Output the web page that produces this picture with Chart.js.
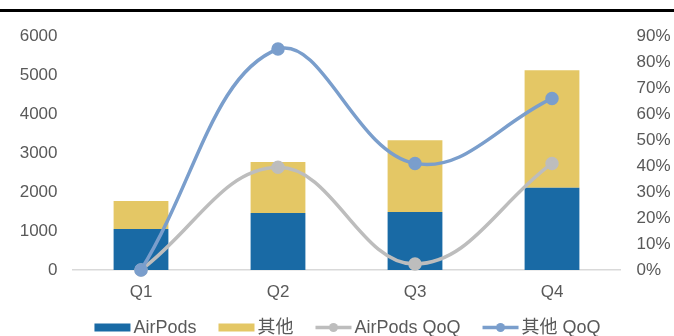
<!DOCTYPE html>
<html>
<head>
<meta charset="utf-8">
<script src="https://cdn.jsdelivr.net/npm/chart.js@4.4.1/dist/chart.umd.min.js"></script>
<style>
  html, body { margin: 0; padding: 0; background: #fff; }
  #wrap { width: 674px; height: 336px; position: relative; }
</style>
</head>
<body>
<div id="wrap"><canvas id="chart" width="674" height="336"></canvas></div>
<script>
const categories = ['Q1', 'Q2', 'Q3', 'Q4'];
const airpods = [1050, 1460, 1490, 2110];
const others = [720, 1310, 1840, 3010];
const airpodsQoQ = [0, 39.5, 2.3, 41];
const othersQoQ = [0, 85, 41, 66];
const leftMax = 6000, leftStep = 1000;
const rightMax = 90, rightStep = 10;

const BLUE = '#196AA5';
const YELLOW = '#E4C765';
const GRAY = '#BDBDBD';
const LBLUE = '#7A9ECC';
const TXT = '#595959';
const FONT = '"Liberation Sans", Arial, "Noto Sans CJK SC", sans-serif';

// black rule at the top and the custom legend at the bottom
const extras = {
  id: 'extras',
  beforeDraw(chart) {
    const ctx = chart.ctx;
    ctx.save();
    ctx.fillStyle = '#000';
    ctx.fillRect(0, 9, chart.width, 3);
    ctx.restore();
  },
  afterDraw(chart) {
    const ctx = chart.ctx;
    const items = [
      { text: 'AirPods', type: 'box', color: BLUE },
      { text: '其他', type: 'box', color: YELLOW },
      { text: 'AirPods QoQ', type: 'line', color: GRAY },
      { text: '其他 QoQ', type: 'line', color: LBLUE }
    ];
    ctx.save();
    ctx.font = '18px ' + FONT;
    const mark = 36, gap = 3, space = 22;
    let total = 0;
    items.forEach((it, i) => {
      it.w = ctx.measureText(it.text).width;
      total += mark + gap + it.w + (i ? space : 0);
    });
    let x = 347.5 - total / 2;
    const y = 327.5;
    ctx.textBaseline = 'middle';
    items.forEach(it => {
      if (it.type === 'box') {
        ctx.fillStyle = it.color;
        ctx.fillRect(x, y - 4, mark, 8);
      } else {
        ctx.strokeStyle = it.color;
        ctx.lineWidth = 3.5;
        ctx.beginPath();
        ctx.moveTo(x, y);
        ctx.lineTo(x + mark, y);
        ctx.stroke();
        ctx.fillStyle = it.color;
        ctx.beginPath();
        ctx.arc(x + mark / 2, y, 4.5, 0, Math.PI * 2);
        ctx.fill();
      }
      ctx.fillStyle = TXT;
      ctx.fillText(it.text, x + mark + gap, y + 1);
      x += mark + gap + it.w + space;
    });
    ctx.restore();
  }
};

const ctx = document.getElementById('chart').getContext('2d');
const chart = new Chart(ctx, {
  type: 'bar',
  data: {
    labels: categories,
    datasets: [
      {
        type: 'line', label: '其他 QoQ', data: othersQoQ, yAxisID: 'y1', order: 0,
        borderColor: LBLUE, backgroundColor: LBLUE, borderWidth: 3.5,
        pointRadius: 5, pointHoverRadius: 5, tension: 0.4, clip: false, fill: false
      },
      {
        type: 'line', label: 'AirPods QoQ', data: airpodsQoQ, yAxisID: 'y1', order: 1,
        borderColor: GRAY, backgroundColor: GRAY, borderWidth: 3.5,
        pointRadius: 5, pointHoverRadius: 5, tension: 0.4, clip: false, fill: false
      },
      {
        label: 'AirPods', data: airpods, yAxisID: 'y', order: 2, stack: 's',
        backgroundColor: BLUE, barPercentage: 0.4, categoryPercentage: 1
      },
      {
        label: '其他', data: others, yAxisID: 'y', order: 3, stack: 's',
        backgroundColor: YELLOW, barPercentage: 0.4, categoryPercentage: 1
      }
    ]
  },
  options: {
    responsive: false,
    animation: false,
    layout: { padding: { top: 36, left: 0, right: 0, bottom: 0 } },
    plugins: { legend: { display: false }, tooltip: { enabled: false } },
    scales: {
      x: {
        stacked: true,
        grid: { display: false, drawTicks: false },
        border: { display: true, color: '#D9D9D9', width: 1.5 },
        ticks: { color: TXT, font: { size: 17, family: FONT }, padding: 12 },
        afterFit(s) { s.height = 66; }
      },
      y: {
        stacked: true, min: 0, max: leftMax,
        grid: { display: false, drawTicks: false },
        border: { display: false },
        ticks: { stepSize: leftStep, color: TXT, font: { size: 17, family: FONT }, padding: 15,
          callback: v => String(v) },
        afterFit(s) { s.width = 72.5; }
      },
      y1: {
        position: 'right', min: 0, max: rightMax,
        grid: { display: false, drawTicks: false },
        border: { display: false },
        ticks: { stepSize: rightStep, color: TXT, font: { size: 17, family: FONT }, padding: 16,
          callback: v => v + '%' },
        afterFit(s) { s.width = 53.5; }
      }
    }
  },
  plugins: [extras]
});
</script>
</body>
</html>
